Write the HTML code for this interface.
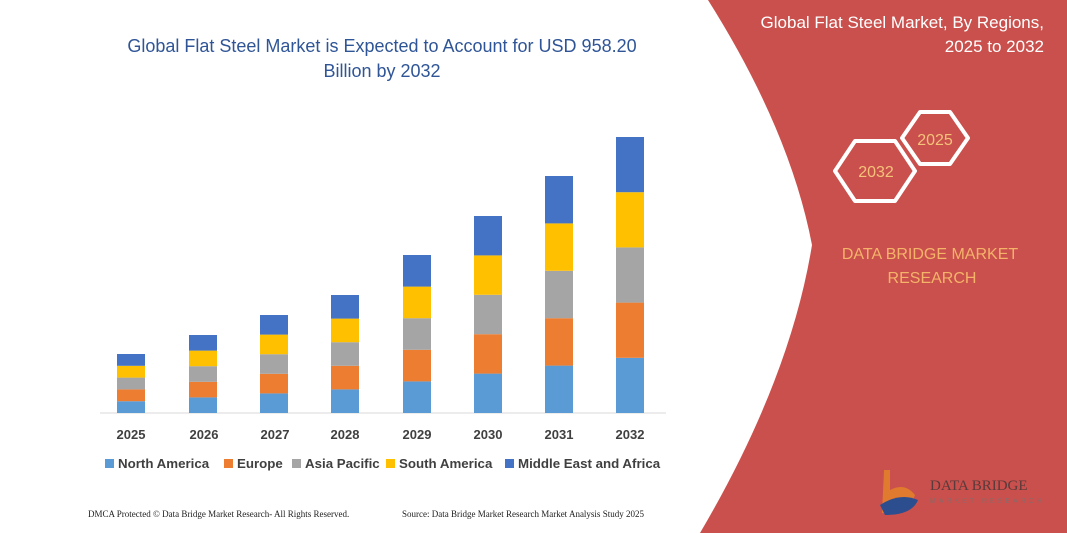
<!DOCTYPE html>
<html><head><meta charset="utf-8"><style>
body{margin:0;width:1067px;height:533px;overflow:hidden;background:#fff;font-family:"Liberation Sans",sans-serif;position:relative}
.t{position:absolute}
</style></head><body>
<svg class="t" style="left:0;top:0" width="1067" height="533">
<path d="M708,0 L1067,0 L1067,533 L700,533 Q790,380 812,245 Q790,130 708,0Z" fill="#C9504C"/>
<line x1="100" y1="413" x2="666" y2="413" stroke="#d9d9d9" stroke-width="1"/>
<g id="bars"></g>
<polygon points="855,141 895,141 915,171 895,201 855,201 835,171" fill="none" stroke="#fff" stroke-width="4" stroke-linejoin="round"/>
<polygon points="920,112 950,112 968,138 950,164 920,164 902,138" fill="none" stroke="#fff" stroke-width="4" stroke-linejoin="round"/>
<text x="876" y="177" text-anchor="middle" fill="#F5C27A" font-size="16">2032</text>
<text x="935" y="145" text-anchor="middle" fill="#F5C27A" font-size="16">2025</text>
<text x="930" y="259" text-anchor="middle" fill="#F5B36A" font-size="16">DATA BRIDGE MARKET</text>
<text x="932" y="283" text-anchor="middle" fill="#F5B36A" font-size="16">RESEARCH</text>
<text x="1044" y="28" text-anchor="end" fill="#fff" font-size="17">Global Flat Steel Market, By Regions,</text>
<text x="1044" y="52" text-anchor="end" fill="#fff" font-size="17">2025 to 2032</text>
<path d="M884,470 L890,470 L890,490 Q905,482 915,495 Q910,510 890,513 L882,513 Z" fill="#E07A2E"/>
<path d="M880,505 Q900,492 918,500 Q912,515 885,515Z" fill="#2C4E8E"/>
<text x="930" y="490" fill="#5a3a3a" font-size="15" font-family="Liberation Serif">DATA BRIDGE</text>
<text x="930" y="503" fill="#8a6a6a" font-size="7" letter-spacing="3">MARKET RESEARCH</text>
<text x="382" y="52" text-anchor="middle" fill="#2F5597" font-size="18">Global Flat Steel Market is Expected to Account for USD 958.20</text>
<text x="382" y="77" text-anchor="middle" fill="#2F5597" font-size="18">Billion by 2032</text>
<g font-size="13" font-weight="bold" fill="#404040" text-anchor="middle">
<text x="131" y="439">2025</text><text x="204" y="439">2026</text><text x="275" y="439">2027</text><text x="345" y="439">2028</text><text x="417" y="439">2029</text><text x="488" y="439">2030</text><text x="559" y="439">2031</text><text x="630" y="439">2032</text>
</g>
<g font-size="13.3" font-weight="bold" fill="#404040">
<rect x="105" y="459" width="9" height="9" fill="#5B9BD5"/><text x="118" y="468">North America</text>
<rect x="224" y="459" width="9" height="9" fill="#ED7D31"/><text x="237" y="468">Europe</text>
<rect x="292" y="459" width="9" height="9" fill="#A5A5A5"/><text x="305" y="468">Asia Pacific</text>
<rect x="386" y="459" width="9" height="9" fill="#FFC000"/><text x="399" y="468">South America</text>
<rect x="505" y="459" width="9" height="9" fill="#4472C4"/><text x="518" y="468">Middle East and Africa</text>
</g>
<text x="88" y="517" font-size="9" fill="#222" font-family="Liberation Serif">DMCA Protected © Data Bridge Market Research-  All Rights Reserved.</text>
<text x="402" y="517" font-size="9" fill="#222" font-family="Liberation Serif">Source: Data Bridge Market Research  Market Analysis Study 2025</text>
</svg>
<script>
var xs=[117,189,260,331,403,474,545,616],tops=[354,335,315,295,255,216,176,137];
var cols=["#5B9BD5","#ED7D31","#A5A5A5","#FFC000","#4472C4"];var s="";
for(var i=0;i<8;i++){var h=(413-tops[i])/5;for(var j=0;j<5;j++){s+='<rect x="'+xs[i]+'" y="'+(413-h*(j+1))+'" width="28" height="'+h+'" fill="'+cols[j]+'"/>';}}
document.getElementById('bars').innerHTML=s;
</script>
</body></html>
